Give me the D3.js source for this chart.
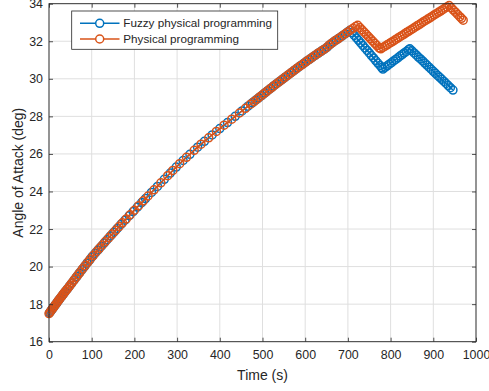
<!DOCTYPE html>
<html>
<head>
<meta charset="utf-8">
<script src="https://cdn.jsdelivr.net/npm/d3@7"></script>
<style>
  html, body { margin: 0; padding: 0; background: #fff; }
  svg text { font-family: "Liberation Sans", Arial, Helvetica, sans-serif; fill: #262626; }
</style>
</head>
<body>
<svg id="chart" width="489" height="391"></svg>
<script>
// Angle of attack histories (time in s, angle in deg)
const fuzzyTime = [1.5,4.5,7.5,10.5,13.5,16.5,19.5,22.5,26,30,34,38,43,48,53,59,65,71,77,83,89,95,101,108,115,122,129,136,144,152,160,169,178,188,197,207,217,226,240,254,270,284,298,314,330,348,364,382,400,418,436,452,466,476,484,491,498,505,512,519,526,533,540,547,554,561,568,575,582,589,596,603,610,617,624,631,638,645,652,659,666,673,680,687,694,700,705,710,715,720,725,730,735,740,745,750,755,760,765,770,775,779,782,787,792,797,802,807,812,817,822,827,832,837,842,845,850,855,860,865,870,875,880,885,890,895,900,905,910,915,920,925,930,935,940,946];
const fuzzyAngle = [17.55,17.64,17.73,17.83,17.92,18.01,18.11,18.20,18.31,18.43,18.55,18.67,18.81,18.96,19.11,19.29,19.47,19.65,19.83,20.00,20.18,20.35,20.53,20.71,20.89,21.07,21.25,21.43,21.63,21.83,22.03,22.26,22.47,22.71,22.93,23.17,23.41,23.62,23.95,24.27,24.65,24.98,25.30,25.65,25.98,26.36,26.67,27.01,27.35,27.67,28.00,28.29,28.54,28.72,28.86,28.99,29.11,29.24,29.37,29.49,29.62,29.74,29.86,29.98,30.10,30.22,30.34,30.46,30.58,30.70,30.81,30.93,31.04,31.15,31.26,31.37,31.48,31.58,31.70,31.84,31.96,32.07,32.18,32.29,32.40,32.50,32.58,32.45,32.31,32.18,32.05,31.91,31.78,31.64,31.51,31.38,31.24,31.11,30.97,30.84,30.71,30.60,30.52,30.61,30.69,30.78,30.86,30.95,31.03,31.12,31.21,31.29,31.38,31.46,31.55,31.60,31.49,31.38,31.27,31.16,31.06,30.95,30.84,30.73,30.62,30.51,30.40,30.29,30.18,30.08,29.97,29.86,29.75,29.64,29.53,29.40];

const physTime = [0,3,6,9,12,15,18,21,24,27,30,33,36,39,42,46,50,54,58,63,68,73,79,85,91,97,104,111,118,125,132,140,148,156,164,172,181,190,200,210,221,232,246,262,278,290,306,322,340,356,374,392,410,428,446,460,472,480,488,495,502,509,516,523,530,537,544,551,558,565,572,579,586,593,600,607,614,621,628,635,642,649,656,663,670,677,684,691,698,705,712,718,723,728,733,738,743,748,753,758,763,768,773,777,782,787,792,797,802,807,812,817,822,827,832,837,842,847,852,857,862,867,872,877,882,887,892,897,902,907,912,917,922,927,932,937,942,947,952,957,962,966,970];
const physAngle = [17.50,17.59,17.69,17.78,17.87,17.97,18.06,18.16,18.25,18.34,18.43,18.52,18.61,18.70,18.78,18.90,19.02,19.14,19.26,19.41,19.56,19.71,19.89,20.06,20.24,20.41,20.60,20.79,20.97,21.15,21.33,21.53,21.73,21.93,22.13,22.33,22.54,22.76,23.00,23.24,23.50,23.76,24.09,24.46,24.84,25.12,25.48,25.82,26.19,26.52,26.86,27.20,27.53,27.85,28.18,28.43,28.65,28.79,28.93,29.06,29.19,29.31,29.44,29.56,29.69,29.81,29.93,30.05,30.17,30.29,30.41,30.53,30.65,30.76,30.88,30.99,31.10,31.22,31.33,31.43,31.54,31.64,31.79,31.91,32.03,32.13,32.24,32.36,32.47,32.58,32.69,32.78,32.85,32.73,32.61,32.49,32.37,32.25,32.13,32.01,31.89,31.77,31.65,31.60,31.67,31.74,31.81,31.88,31.95,32.02,32.10,32.17,32.24,32.31,32.38,32.46,32.53,32.60,32.67,32.75,32.82,32.89,32.96,33.04,33.11,33.18,33.25,33.32,33.40,33.47,33.54,33.61,33.68,33.76,33.83,33.90,33.78,33.66,33.55,33.43,33.31,33.22,33.12];

const xTicks = [0,100,200,300,400,500,600,700,800,900,1000];
const yTicks = [16,18,20,22,24,26,28,30,32,34];
const seriesNames = ["Fuzzy physical programming", "Physical programming"];
const seriesColors = ["#0072BD", "#D95319"];

const svg = d3.select("#chart");
const L = 49, R = 476, T = 3.7, B = 341.7;

const x = d3.scaleLinear().domain([0, 1000]).range([L, R]);
const y = d3.scaleLinear().domain([16, 34]).range([B, T]);

// grid
const grid = svg.append("g").attr("stroke", "#dfdfdf").attr("stroke-width", 1);
grid.selectAll("line.gx").data(xTicks).join("line")
  .attr("x1", d => x(d)).attr("x2", d => x(d)).attr("y1", T).attr("y2", B);
grid.selectAll("line.gy").data(yTicks).join("line")
  .attr("x1", L).attr("x2", R).attr("y1", d => y(d)).attr("y2", d => y(d));

// series: line with open circle markers
const series = [
  { t: fuzzyTime, v: fuzzyAngle },
  { t: physTime, v: physAngle }
];
const line = d3.line().x(d => x(d[0])).y(d => y(d[1]));
series.forEach((s, i) => {
  const pts = s.t.map((t, k) => [t, s.v[k]]);
  const g = svg.append("g");
  g.append("path").datum(pts).attr("d", line)
    .attr("fill", "none").attr("stroke", seriesColors[i]).attr("stroke-width", 1.5);
  g.selectAll("circle").data(pts).join("circle")
    .attr("cx", d => x(d[0])).attr("cy", d => y(d[1])).attr("r", 4)
    .attr("fill", "none").attr("stroke", seriesColors[i]).attr("stroke-width", 1.5);
});

// axes (ticks pointing inward)
function styleAxis(g) {
  g.select(".domain").remove();
  g.selectAll(".tick line").attr("stroke", "#262626").attr("stroke-width", 0.8);
  g.selectAll(".tick text").attr("fill", "#262626").style("font-size", "12.4px")
    .style("font-family", "'Liberation Sans', Arial, sans-serif");
}
svg.append("g").attr("transform", `translate(0,${B})`)
  .call(d3.axisBottom(x).tickValues(xTicks).tickSize(-4).tickPadding(9).tickFormat(d3.format("d")))
  .call(styleAxis);
svg.append("g").attr("transform", `translate(0,${T})`)
  .call(d3.axisTop(x).tickValues(xTicks).tickSize(-4).tickFormat(""))
  .call(styleAxis);
svg.append("g").attr("transform", `translate(${L},0)`)
  .call(d3.axisLeft(y).tickValues(yTicks).tickSize(-4).tickPadding(6).tickFormat(d3.format("d")))
  .call(styleAxis);
svg.append("g").attr("transform", `translate(${R},0)`)
  .call(d3.axisRight(y).tickValues(yTicks).tickSize(-4).tickFormat(""))
  .call(styleAxis);

svg.append("rect").attr("x", L).attr("y", T).attr("width", R - L).attr("height", B - T)
  .attr("fill", "none").attr("stroke", "#262626").attr("stroke-width", 0.9);

// axis labels
svg.append("text").attr("x", (L + R) / 2).attr("y", 380).attr("text-anchor", "middle")
  .style("font-size", "14px").text("Time (s)");
svg.append("text").attr("transform", `translate(23,${(T + B) / 2}) rotate(-90)`)
  .attr("text-anchor", "middle").style("font-size", "14px").text("Angle of Attack (deg)");

// legend
const lg = svg.append("g");
lg.append("rect").attr("x", 71.7).attr("y", 11).attr("width", 206).attr("height", 38.3)
  .attr("fill", "#fff").attr("stroke", "#262626").attr("stroke-width", 0.8);
seriesNames.forEach((name, i) => {
  const cy = 23.3 + i * 15.7;
  lg.append("line").attr("x1", 80).attr("x2", 119.5).attr("y1", cy).attr("y2", cy)
    .attr("stroke", seriesColors[i]).attr("stroke-width", 1.5);
  lg.append("circle").attr("cx", 99.7).attr("cy", cy).attr("r", 4)
    .attr("fill", "#fff").attr("stroke", seriesColors[i]).attr("stroke-width", 1.5);
  lg.append("text").attr("x", 123.3).attr("y", cy).attr("dy", "0.35em")
    .style("font-size", "11.7px").text(name);
});
</script>
</body>
</html>
